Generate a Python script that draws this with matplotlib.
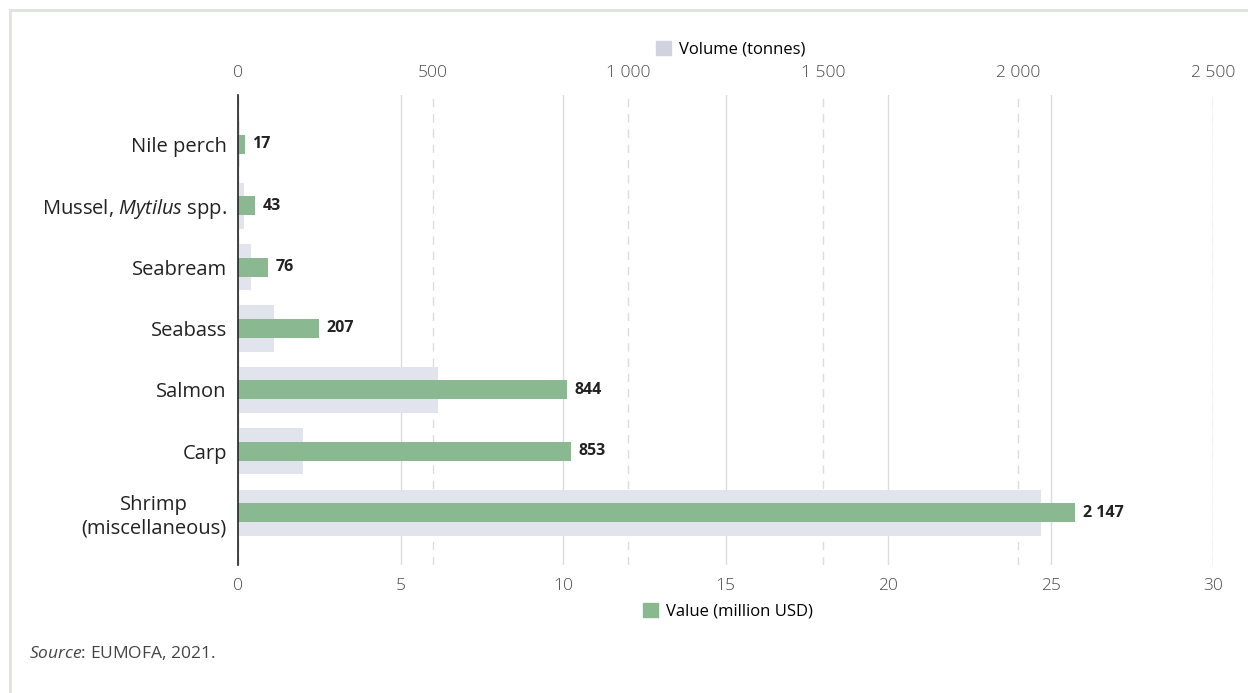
import matplotlib.pyplot as plt
from matplotlib.patches import Patch
from matplotlib.lines import Line2D

plt.rcParams['font.family'] = ['Open Sans', 'DejaVu Sans']
plt.rcParams['mathtext.fontset'] = 'custom'
plt.rcParams['mathtext.rm'] = 'Open Sans'
plt.rcParams['mathtext.it'] = 'Open Sans:italic'

species = ["Nile perch", "Mussel, $\\mathit{Mytilus}$ spp.", "Seabream", "Seabass",
           "Salmon", "Carp", "Shrimp\n(miscellaneous)"]
volume = [6, 15, 33, 92, 514, 166, 2060]
value = [17, 43, 76, 207, 844, 853, 2147]
value_labels = ["17", "43", "76", "207", "844", "853", "2 147"]
top_ticks = [0, 500, 1000, 1500, 2000, 2500]
top_labels = ["0", "500", "1 000", "1 500", "2 000", "2 500"]
bottom_ticks = [0, 5, 10, 15, 20, 25, 30]

grey = '#e1e4ec'
green = '#8ab890'
gridc = '#dcdcdc'

fig = plt.figure(figsize=(12.48, 6.93), dpi=100)
ax = fig.add_axes([238 / 1248, 1 - 565 / 693, (1213 - 238) / 1248, (565 - 95) / 693])
ax.set_xlim(0, 30)
ax.set_xticks(bottom_ticks)
ax.set_xticklabels([str(t) for t in bottom_ticks])
ax.grid(axis='x', color=gridc, linewidth=1, linestyle='-')
ax.set_axisbelow(True)

top = ax.twiny()
top.set_xlim(0, 2495)
top.set_xticks(top_ticks)
top.set_xticklabels(top_labels)
top.grid(axis='x', color=gridc, linewidth=1, linestyle=(0, (6, 5)))
top.set_axisbelow(True)

pos = list(range(len(species)))
top.barh(pos, volume, height=0.75, color=grey, zorder=2)
top.barh(pos, value, height=0.31, color=green, zorder=3)
for y, v, lab in zip(pos, value, value_labels):
    top.text(v + 20, y, lab, va='center', ha='left', fontsize=11.5,
             fontweight='bold', color='#222222', zorder=4)

ax.set_ylim(6.85, -0.8)
ax.set_yticks(pos)
ax.set_yticklabels(species, fontsize=14.5, color='#222222')
for lab in ax.get_yticklabels():
    lab.set_multialignment('center')

for a in (ax, top):
    for s in ['top', 'right', 'bottom', 'left']:
        a.spines[s].set_visible(False)
    a.tick_params(length=0)
# spine on the twin so it sits above the dashed grid
top.spines['left'].set_visible(True)
top.spines['left'].set_color('#222222')
top.spines['left'].set_linewidth(1.2)
top.spines['left'].set_zorder(5)
ax.tick_params(axis='x', labelsize=12.5, labelcolor='#4a4a4a', pad=9)
ax.tick_params(axis='y', pad=8)
top.tick_params(axis='x', labelsize=12.5, labelcolor='#4a4a4a', pad=10)
for lab in ax.get_xticklabels() + top.get_xticklabels():
    lab.set_fontweight('light')

fig.legend(handles=[Patch(color='#d0d3de', label='Volume (tonnes)')],
           loc='center', bbox_to_anchor=(731 / 1248, 1 - 49 / 693), frameon=False,
           fontsize=12, handlelength=0.9, handleheight=0.9, handletextpad=0.5)
fig.legend(handles=[Patch(color=green, label='Value (million USD)')],
           loc='center', bbox_to_anchor=(728 / 1248, 1 - 611 / 693), frameon=False,
           fontsize=12, handlelength=0.9, handleheight=0.9, handletextpad=0.5)

fig.text(29 / 1248, 1 - 653 / 693, "$\\mathit{Source}$: EUMOFA, 2021.",
         fontsize=12.5, color='#444444', va='center', ha='left')

# light frame around the figure
frame = '#dfe3da'
fig.add_artist(Line2D([10 / 1248, 10 / 1248], [0, 1 - 10 / 693], color=frame, lw=2,
                      transform=fig.transFigure))
fig.add_artist(Line2D([10 / 1248, 1], [1 - 10 / 693, 1 - 10 / 693], color=frame, lw=2,
                      transform=fig.transFigure))

fig.savefig('out.png', dpi=100)
